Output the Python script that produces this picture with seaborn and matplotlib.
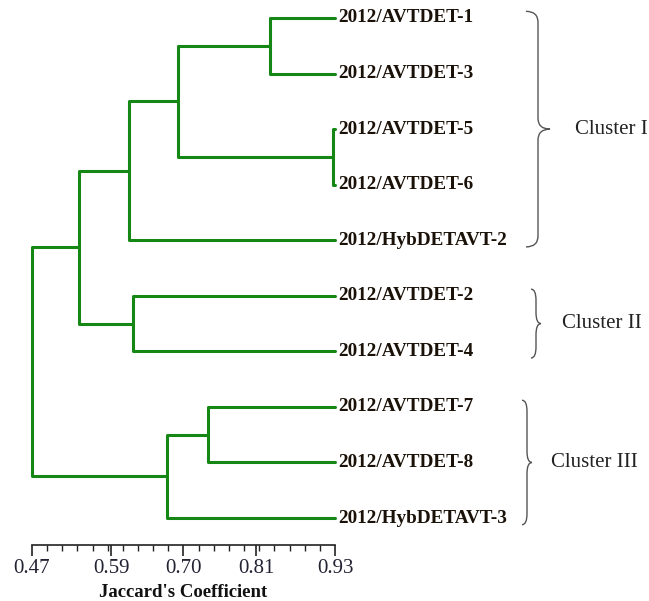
import numpy as np
import pandas as pd
import matplotlib
matplotlib.use("Agg")
import matplotlib.pyplot as plt
import seaborn as sns
from matplotlib.path import Path
from matplotlib.patches import PathPatch

# data: leaves (top to bottom), merges (child a, child b, similarity)
leaves = ["2012/AVTDET-1", "2012/AVTDET-3", "2012/AVTDET-5", "2012/AVTDET-6",
          "2012/HybDETAVT-2", "2012/AVTDET-2", "2012/AVTDET-4", "2012/AVTDET-7",
          "2012/AVTDET-8", "2012/HybDETAVT-3"]
leaf_value = 0.93
merge_a = [0, 2, 10, 12, 5, 13, 7, 16, 15]
merge_b = [1, 3, 11, 4, 6, 14, 8, 9, 17]
merge_height = [0.831, 0.927, 0.692, 0.617, 0.623, 0.541, 0.737, 0.675, 0.470]

tick_values = [0.47, 0.59, 0.70, 0.81, 0.93]
tick_labels = ["0.47", "0.59", "0.70", "0.81", "0.93"]

cluster_names = ["Cluster I", "Cluster II", "Cluster III"]
cluster_first = [0, 5, 7]
cluster_last = [4, 6, 9]

# 1. Build the segments of the dendrogram
def build_segments():
    node_x = [leaf_value] * len(leaves)
    node_y = list(range(len(leaves)))
    rows = []
    for k, (a, b, h) in enumerate(zip(merge_a, merge_b, merge_height)):
        pts = [(node_x[a], node_y[a]), (h, node_y[a]), (h, node_y[b]), (node_x[b], node_y[b])]
        for x, y in pts:
            rows.append({"seg": k, "x": x, "y": y})
        node_x.append(h)
        node_y.append((node_y[a] + node_y[b]) / 2)
    return pd.DataFrame(rows)

# 2. Curly brace path in data coordinates
def draw_brace(ax, y0, y1, xs, w, r):
    ym = (y0 + y1) / 2
    verts = [(xs - w, y0), (xs, y0), (xs, y0 + r),
             (xs, ym - r), (xs, ym), (xs + w, ym),
             (xs, ym), (xs, ym + r),
             (xs, y1 - r), (xs, y1), (xs - w, y1)]
    codes = [Path.MOVETO, Path.CURVE3, Path.CURVE3,
             Path.LINETO, Path.CURVE3, Path.CURVE3,
             Path.CURVE3, Path.CURVE3,
             Path.LINETO, Path.CURVE3, Path.CURVE3]
    ax.add_patch(PathPatch(Path(verts, codes), facecolor="none",
                           edgecolor="#555555", lw=1.0))

sns.set_theme(style="white")
plt.rcParams["font.family"] = ["Liberation Serif", "DejaVu Serif"]

fig = plt.figure(figsize=(6.49, 6.01), dpi=100)
ax = fig.add_axes([0, (601 - 545) / 601, 1, 545 / 601])

px_per_unit = 303 / 0.46
x0 = 0.47 - 32 / px_per_unit
x1 = x0 + 649 / px_per_unit
row_px = 55.56
ax.set_xlim(x0, x1)
ax.set_ylim((545 - 18) / row_px, -18 / row_px)

df = build_segments()
sns.lineplot(data=df, x="x", y="y", units="seg", estimator=None, sort=False,
             color="#148714", lw=2.2, ax=ax)

for i, name in enumerate(leaves):
    ax.text(leaf_value + 3 / px_per_unit, i, name, ha="left", va="center",
            fontsize=13.8, fontweight="bold", color="#1a1108")

# braces and cluster names
brace_stem = [538, 536, 527]
brace_w = [12, 5, 5]
text_x = [575, 562, 551]
for name, f, l, xs, w, tx in zip(cluster_names, cluster_first, cluster_last,
                                 brace_stem, brace_w, text_x):
    y0 = f - 0.12
    y1 = l + 0.12
    draw_brace(ax, y0, y1, x0 + xs / px_per_unit, w / px_per_unit, 0.2)
    ax.text(x0 + tx / px_per_unit, (y0 + y1) / 2, name, ha="left", va="center",
            fontsize=15, color="#222222")

# axis styling
for s in ["top", "right", "left"]:
    ax.spines[s].set_visible(False)
ax.spines["bottom"].set_bounds(0.47, 0.93)
ax.spines["bottom"].set_color("#222222")
ax.spines["bottom"].set_linewidth(1.2)
ax.set_yticks([])
ax.set_xticks(tick_values)
ax.set_xticklabels(tick_labels)
ax.set_xticks(np.linspace(0.47, 0.93, 21), minor=True)
ax.tick_params(axis="x", which="major", direction="out", length=8, width=1.2,
               color="#222222", labelsize=15, labelcolor="#222233", pad=2, bottom=True)
ax.tick_params(axis="x", which="minor", direction="out", length=4, width=1.0,
               color="#222222", bottom=True)
ax.set_xlabel("Jaccard's Coefficient", fontsize=13.5, fontweight="bold",
              color="#111111", labelpad=2)
ax.xaxis.set_label_coords((0.70 - x0) / (x1 - x0), -0.072)
ax.set_ylabel("")

plt.savefig("out.png", dpi=100)
